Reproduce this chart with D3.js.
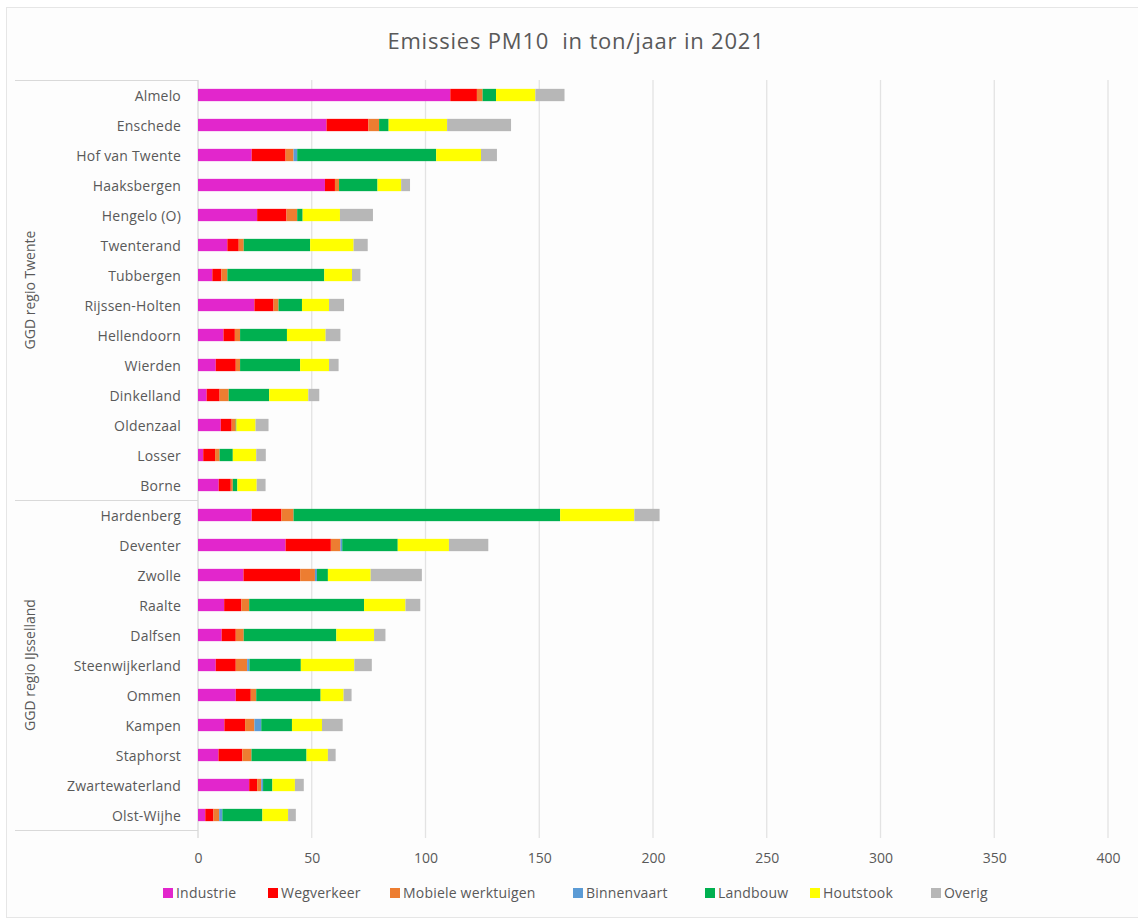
<!DOCTYPE html>
<html><head><meta charset="utf-8">
<script src="https://cdn.jsdelivr.net/npm/d3@7/dist/d3.min.js"></script>
<style>body{margin:0;background:#fff;}svg{display:block;font-family:"Open Sans",sans-serif;}</style>
</head><body>
<svg id="c" width="1138" height="921"></svg>
<script>
const categories = ["Almelo","Enschede","Hof van Twente","Haaksbergen","Hengelo (O)","Twenterand","Tubbergen","Rijssen-Holten","Hellendoorn","Wierden","Dinkelland","Oldenzaal","Losser","Borne",
  "Hardenberg","Deventer","Zwolle","Raalte","Dalfsen","Steenwijkerland","Ommen","Kampen","Staphorst","Zwartewaterland","Olst-Wijhe"];
const groups = [{name:"GGD regio Twente", count:14},{name:"GGD regio IJsselland", count:11}];
const seriesNames = ["Industrie","Wegverkeer","Mobiele werktuigen","Binnenvaart","Landbouw","Houtstook","Overig"];
const seriesColors = ["#e226cc","#ff0000","#ed7d31","#5b9bd5","#00b050","#ffff00","#b7b7b7"];
const industrie   = [110.9,56.5,23.6,55.8,26.0,12.9,6.3,24.8,11.2,7.8,3.8,10.0,2.3,9.1, 23.6,38.5,20.0,11.5,10.4,7.8,16.6,11.6,9.0,22.5,3.2];
const wegverkeer  = [11.7,18.4,14.9,4.4,12.9,5.0,4.0,8.4,5.0,8.8,5.7,4.8,5.2,5.3, 13.1,19.9,24.9,7.6,6.2,8.8,6.6,9.1,10.5,3.5,3.6];
const mobiele     = [2.5,4.7,3.5,1.8,4.7,2.2,2.6,2.2,2.3,1.9,4.0,1.8,2.0,0.9, 5.3,4.2,6.5,3.4,3.5,5.0,2.4,4.1,4.0,1.8,2.5];
const binnenvaart = [0,0,1.6,0,0,0,0,0,0,0,0,0,0,0, 0,0.8,0.9,0,0,1.0,0,3.0,0,0.8,1.4];
const landbouw    = [5.9,4.2,61.1,16.9,2.4,29.2,42.6,10.3,20.6,26.4,17.8,0.3,5.8,2.0, 117.2,24.4,4.8,50.5,40.7,22.6,28.3,13.5,24.2,4.1,17.6];
const houtstook   = [17.3,25.7,19.7,10.4,16.4,19.1,12.2,11.9,17.0,12.7,17.2,8.4,10.3,8.5, 32.6,22.5,18.8,18.2,16.6,23.5,10.1,13.2,9.4,9.9,11.3];
const overig      = [12.8,28.1,7.0,3.9,14.5,6.2,3.7,6.6,6.5,4.2,4.8,5.7,4.2,3.9, 11.1,17.3,22.5,6.5,5.0,7.7,3.5,9.1,3.4,3.9,3.4];
const xTicks = [0,50,100,150,200,250,300,350,400];

(function(){
const seriesValues = [industrie,wegverkeer,mobiele,binnenvaart,landbouw,houtstook,overig];
const rows = categories.map((c,i)=>{const r={cat:c}; seriesNames.forEach((s,k)=>r[s]=seriesValues[k][i]); return r;});
const stacked = d3.stack().keys(seriesNames)(rows);

const svg = d3.select("#c");
const mLeft = 198, mRight = 1108, mTop = 80, mBottom = 830;
const textCol = "#595959";

svg.append("rect").attr("x",6.5).attr("y",7.5).attr("width",1140).attr("height",910)
  .attr("fill","#fdfdfd").attr("stroke","#e6e6e6");

const x = d3.scaleLinear().domain([0,400]).range([mLeft,mRight]);
const y = d3.scaleBand().domain(categories).range([mTop,mBottom]).paddingInner(0.59).paddingOuter(0.295);

svg.append("g").selectAll("line").data(xTicks).join("line")
  .attr("x1",d=>x(d)).attr("x2",d=>x(d)).attr("y1",mTop).attr("y2",mBottom+8)
  .attr("stroke",d=>d===0?"#d9d9d9":"#e3e3e3").attr("stroke-width",1.3);

const xAxis = d3.axisBottom(x).tickValues(xTicks).tickSize(0).tickPadding(0);
const gx = svg.append("g").attr("transform",`translate(0,${mBottom})`).call(xAxis);
gx.select(".domain").remove();
gx.selectAll("text").attr("y",33).attr("dy","0").attr("fill",textCol).style("font-size","14px").style("font-family","'Open Sans',sans-serif");

const boxLines = [mTop, mTop+14*30, mBottom];
svg.append("g").selectAll("line").data(boxLines).join("line")
  .attr("x1",15).attr("x2",mLeft).attr("y1",d=>d+0.5).attr("y2",d=>d+0.5)
  .attr("stroke","#d9d9d9").attr("stroke-width",1.2);

const yAxis = d3.axisLeft(y).tickSize(0).tickPadding(17);
const gy = svg.append("g").attr("transform",`translate(${mLeft},0)`).call(yAxis);
gy.select(".domain").remove();
gy.selectAll("text").attr("fill",textCol).attr("dy","0.4em").style("font-size","14px").style("letter-spacing","0.2px").style("font-family","'Open Sans',sans-serif");

let start = 0;
groups.forEach(g=>{
  const y0 = mTop + start*30, y1 = mTop + (start+g.count)*30;
  svg.append("text").attr("transform",`translate(35,${(y0+y1)/2}) rotate(-90)`)
    .attr("text-anchor","middle").attr("fill",textCol).style("font-size","14px").text(g.name);
  start += g.count;
});

svg.append("g").selectAll("g").data(stacked).join("g")
  .attr("fill",(d,i)=>seriesColors[i])
  .selectAll("rect").data(d=>d).join("rect")
  .attr("x",d=>x(d[0])).attr("width",d=>Math.max(0,x(d[1])-x(d[0])))
  .attr("y",d=>y(d.data.cat)).attr("height",y.bandwidth());

svg.append("text").attr("x",576).attr("y",49).attr("text-anchor","middle")
  .attr("fill",textCol).style("font-size","22px").style("letter-spacing","0.8px").text("Emissies PM10\u00a0 in ton/jaar in 2021");

const legX = [163,268,390,573,705,810,931];
const leg = svg.append("g").selectAll("g").data(seriesNames).join("g")
  .attr("transform",(d,i)=>`translate(${legX[i]},893)`);
leg.append("rect").attr("x",0).attr("y",-5).attr("width",10).attr("height",10).attr("fill",(d,i)=>seriesColors[i]);
leg.append("text").attr("x",13).attr("y",5).attr("fill",textCol).style("font-size","14px").style("letter-spacing","0.2px").text(d=>d);
})();
</script>
</body></html>
